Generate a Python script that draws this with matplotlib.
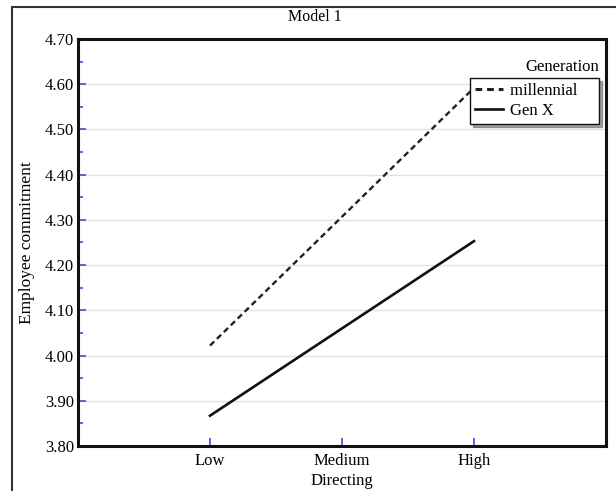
import matplotlib
matplotlib.use("Agg")
import matplotlib.pyplot as plt
from matplotlib.patches import Rectangle
from matplotlib.ticker import MultipleLocator

categories = ["Low", "Medium", "High"]
x_pos = [1, 3]
millennial = [4.022, 4.592]
genx = [3.867, 4.253]
yticks = [3.80, 3.90, 4.00, 4.10, 4.20, 4.30, 4.40, 4.50, 4.60, 4.70]

plt.rcParams['font.family'] = ['Liberation Serif', 'DejaVu Serif']

W, H = 616, 491
fig = plt.figure(figsize=(W / 100, H / 100), dpi=100)
ax = fig.add_axes([78 / W, 1 - 446 / H, (606 - 78) / W, (446 - 39) / H])

# outer frame
fig.patches.append(Rectangle((12 / W, -0.1), 1.2, 1.1 - 7 / H, transform=fig.transFigure,
                             fill=False, edgecolor='#333333', linewidth=1.5, zorder=0))

ax.plot(x_pos, millennial, color='#222222', linestyle=(0, (2.5, 1.6)), linewidth=1.7, label='millennial\u2003')
ax.plot(x_pos, genx, color='#111111', linestyle='-', linewidth=1.9, label='Gen X')

ax.set_xlim(0, 4)
ax.set_ylim(3.80, 4.70)
ax.set_xticks([1, 2, 3])
ax.set_xticklabels(categories)
ax.set_yticks(yticks)
ax.set_yticklabels([f"{v:.2f}" for v in yticks])
ax.yaxis.set_minor_locator(MultipleLocator(0.05))
ax.grid(axis='y', which='major', color='#e2e2e2', linewidth=1.0)
ax.set_axisbelow(True)

tc = '#3a3ad0'
ax.tick_params(axis='y', which='major', direction='in', length=5.5, width=1.1, color=tc, labelsize=12, pad=3)
ax.tick_params(axis='y', which='minor', direction='in', length=3.5, width=1.1, color=tc)
ax.tick_params(axis='x', which='major', direction='in', length=6, width=1.1, color=tc, labelsize=12, pad=5)
for s in ax.spines.values():
    s.set_linewidth(2.2)
    s.set_color('#111111')

ax.set_xlabel('Directing', fontsize=12, labelpad=3)
ax.set_ylabel('Employee commitment', fontsize=12.5, labelpad=7)
fig.text(315 / W, 1 - 17 / H, 'Model 1', ha='center', va='center', fontsize=11.5)

leg = ax.legend(loc='upper right', bbox_to_anchor=(599 / W, 1 - 78 / H), bbox_transform=fig.transFigure,
                frameon=True, shadow=True, fancybox=False, fontsize=12, handlelength=1.7,
                borderpad=0.3, labelspacing=0.25, handletextpad=0.4, borderaxespad=0)
leg.get_frame().set_edgecolor('#111111')
leg.get_frame().set_linewidth(1.0)
leg.get_lines()[0].set_linestyle((0, (2.2, 1.6)))
leg.get_lines()[0].set_linewidth(2.2)
fig.text(599 / W, 1 - 67 / H, 'Generation', ha='right', va='center', fontsize=12)

fig.savefig('out.png', dpi=100)
